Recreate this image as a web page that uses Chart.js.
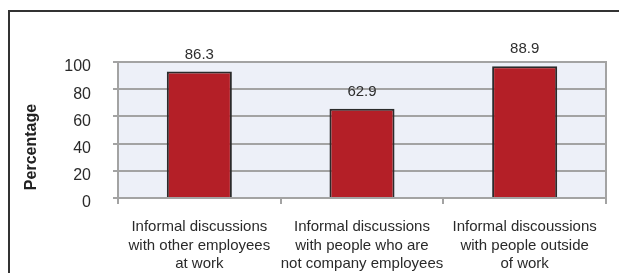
<!DOCTYPE html>
<html>
<head>
<meta charset="utf-8">
<script src="https://cdn.jsdelivr.net/npm/chart.js"></script>
<style>
  body { margin: 0; background: #fff; overflow: hidden; }
</style>
</head>
<body>
<canvas id="shareChart" width="619" height="273"></canvas>
<script>
    // categories and values
    const categories = [
        ['Informal discussions', 'with other employees', 'at work'],
        ['Informal discussions', 'with people who are', 'not company employees'],
        ['Informal discoussions', 'with people outside', 'of work']
    ];
    const barHeights = [93, 65.7, 96.8];
    const barLabels = ['86.3', '62.9', '88.9'];
    const yTicks = [0, 20, 40, 60, 80, 100];
    const yTitle = 'Percentage';

    const face = "'Liberation Sans', Arial, sans-serif";
    const gridGray = '#a3a3a3';

    // outer frame, light plot background, right edge line
    const plotBack = {
        id: 'plotBack',
        beforeDraw(chart) {
            const a = chart.chartArea, c = chart.ctx;
            c.save();
            c.strokeStyle = '#333';
            c.lineWidth = 2;
            c.strokeRect(9, 11, 1000, 1000);
            c.fillStyle = '#edf0f8';
            c.fillRect(a.left, a.top, a.right - a.left, a.bottom - a.top);
            c.restore();
        },
        beforeDatasetsDraw(chart) {
            const a = chart.chartArea, c = chart.ctx;
            c.save();
            c.strokeStyle = gridGray;
            c.lineWidth = 2;
            c.beginPath();
            c.moveTo(a.right, a.top - 1);
            c.lineTo(a.right, a.bottom + 6);
            c.stroke();
            c.restore();
        }
    };

    // value labels above the bars and the rotated axis title
    const barText = {
        id: 'barText',
        afterDatasetsDraw(chart) {
            const c = chart.ctx;
            const meta = chart.getDatasetMeta(0);
            c.save();
            c.fillStyle = '#2e2e2e';
            c.font = '15px ' + face;
            c.textAlign = 'center';
            c.textBaseline = 'middle';
            meta.data.forEach((bar, i) => {
                c.fillText(barLabels[i], bar.x, bar.y - 17);
            });
            c.translate(32, 147);
            c.rotate(-Math.PI / 2);
            c.font = 'bold 16px ' + face;
            c.fillStyle = '#222';
            c.fillText(yTitle, 0, 0);
            c.restore();
        }
    };

    const ctx = document.getElementById('shareChart').getContext('2d');
    new Chart(ctx, {
        type: 'bar',
        data: {
            labels: categories,
            datasets: [{
                data: barHeights,
                backgroundColor: '#b41f27',
                borderColor: '#2b2b2b',
                borderWidth: 2,
                categoryPercentage: 1,
                barPercentage: 0.4
            }]
        },
        options: {
            responsive: false,
            animation: false,
            layout: { padding: { top: 62, right: 13, left: 0, bottom: 0 } },
            plugins: { legend: { display: false }, tooltip: { enabled: false } },
            scales: {
                x: {
                    afterFit(s) { s.height = 75; },
                    grid: { drawOnChartArea: false, drawTicks: true, tickLength: 6, color: gridGray, lineWidth: 2, offset: true },
                    border: { display: true, color: gridGray, width: 2 },
                    ticks: { color: '#2a2a2a', padding: 14, font: { family: face, size: 15, lineHeight: 1.22 }, maxRotation: 0, autoSkip: false }
                },
                y: {
                    min: 0,
                    max: 100,
                    afterFit(s) { s.width = 118; },
                    afterBuildTicks(s) { s.ticks = yTicks.map(v => ({ value: v })); },
                    grid: { color: gridGray, lineWidth: 2, tickLength: 5 },
                    border: { display: true, color: gridGray, width: 2 },
                    ticks: { color: '#2a2a2a', padding: 22, labelOffset: 5, font: { family: face, size: 16 } }
                }
            }
        },
        plugins: [plotBack, barText]
    });
</script>
</body>
</html>
